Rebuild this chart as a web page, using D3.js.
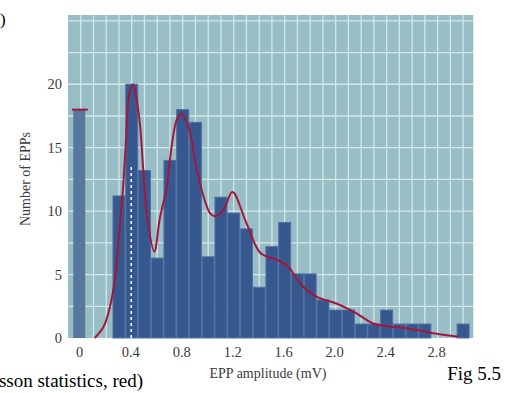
<!DOCTYPE html>
<html>
<head>
<meta charset="utf-8">
<script src="https://cdn.jsdelivr.net/npm/d3@7"></script>
<style>
  body { margin: 0; background: #fff; }
  svg text { font-family: "Liberation Serif", serif; }
</style>
</head>
<body>
<script>
// histogram of EPP amplitudes (bin centres in mV, counts)
var failBin = 0, failCount = 18;
var binCenters = [0.3, 0.4, 0.5, 0.6, 0.7, 0.8, 0.9, 1.0, 1.1, 1.2, 1.3, 1.4, 1.5,
                  1.6, 1.7, 1.8, 1.9, 2.0, 2.1, 2.2, 2.3, 2.4, 2.5, 2.6, 2.7, 2.8, 2.9, 3.0];
var binCounts = [11.2, 20.0, 13.2, 6.3, 14.0, 18.0, 17.0, 6.4, 11.1, 9.85, 8.6, 4.0, 7.2,
                 9.1, 5.05, 5.05, 3.0, 2.2, 2.2, 1.1, 1.1, 2.2, 1.1, 1.1, 1.1, 0, 0, 1.1];

// fitted curve (Poisson prediction), red
var fitX = [0.11, 0.18, 0.23, 0.27, 0.30, 0.33, 0.355, 0.38, 0.41, 0.435, 0.465, 0.49, 0.52,
            0.577, 0.62, 0.675, 0.70, 0.753, 0.79, 0.844, 0.91, 0.962, 1.014, 1.053, 1.12,
            1.19, 1.30, 1.41, 1.54, 1.63, 1.72, 1.85, 2.01, 2.14, 2.29, 2.37, 2.56, 2.74, 2.96];
var fitY = [0, 0.9, 2.5, 4.8, 8.2, 11.6, 15.5, 19.2, 20.0, 19.0, 16.8, 13.3, 9.6,
            6.8, 9.4, 11.9, 14.1, 17.2, 17.7, 16.7, 13.3, 11.2, 9.85, 9.6, 10.1,
            11.5, 9.06, 6.7, 6.16, 5.6, 4.3, 3.26, 2.7, 2.08, 1.16, 0.97, 0.77, 0.42, 0.1];

var quantalSize = 0.4, quantalTop = 13.7;

var xTicks = [0, 0.4, 0.8, 1.2, 1.6, 2.0, 2.4, 2.8];
var yTicks = [0, 5, 10, 15, 20];

var width = 512, height = 393;
var plotL = 68, plotR = 473.3, plotT = 15, plotB = 338;

var svg = d3.select("body").append("svg")
    .attr("width", width)
    .attr("height", height);

var x = d3.scaleLinear().domain([-0.1, 3.08]).range([plotL, plotR]);
var y = d3.scaleLinear().domain([0, 25.46]).range([plotB, plotT]);

// panel background
svg.append("rect")
    .attr("x", plotL).attr("y", plotT)
    .attr("width", plotR - plotL).attr("height", plotB - plotT)
    .attr("fill", "#98bdc4");

// grid: every 0.1 mV and every 2.5 counts
var grid = svg.append("g").attr("stroke", "#d3e7ea").attr("stroke-width", 1.3);
grid.selectAll("line.v")
    .data(d3.range(0, 31).map(function (i) { return i / 10; }))
    .enter().append("line")
    .attr("x1", function (d) { return x(d); })
    .attr("x2", function (d) { return x(d); })
    .attr("y1", plotT).attr("y2", plotB);
grid.selectAll("line.h")
    .data(d3.range(1, 11).map(function (i) { return i * 2.5; }))
    .enter().append("line")
    .attr("x1", plotL).attr("x2", plotR)
    .attr("y1", function (d) { return y(d); })
    .attr("y2", function (d) { return y(d); });

var half = 0.047;

// failures bar at 0
svg.append("rect")
    .attr("x", x(failBin - half) - 1.5)
    .attr("width", x(failBin + half) - x(failBin - half))
    .attr("y", y(failCount))
    .attr("height", y(0) - y(failCount))
    .attr("fill", "#59769f");

svg.append("line")
    .attr("x1", x(failBin - 0.07)).attr("x2", x(failBin + 0.055))
    .attr("y1", y(failCount)).attr("y2", y(failCount))
    .attr("stroke", "#a3163f").attr("stroke-width", 2);

// histogram bars
var bins = binCenters.map(function (c, i) { return { c: c, n: binCounts[i] }; })
    .filter(function (d) { return d.n > 0; });

svg.selectAll("rect.bar")
    .data(bins)
    .enter().append("rect")
    .attr("class", "bar")
    .attr("x", function (d) { return x(d.c - half); })
    .attr("width", x(half * 2) - x(0))
    .attr("y", function (d) { return y(d.n); })
    .attr("height", function (d) { return y(0) - y(d.n); })
    .attr("fill", "#36588f")
    .attr("stroke", "#4f70a3")
    .attr("stroke-width", 1);

// quantal size marker
svg.append("line")
    .attr("x1", x(quantalSize) - 0.5).attr("x2", x(quantalSize) - 0.5)
    .attr("y1", y(0)).attr("y2", y(quantalTop))
    .attr("stroke", "#ffffff").attr("stroke-width", 1.5)
    .attr("stroke-dasharray", "3,3");

// fitted curve
var line = d3.line()
    .x(function (d) { return x(d[0]); })
    .y(function (d) { return y(d[1]); })
    .curve(d3.curveCatmullRom.alpha(0.5));

svg.append("path")
    .datum(fitX.map(function (v, i) { return [v, fitY[i]]; }))
    .attr("d", line)
    .attr("fill", "none")
    .attr("stroke", "#a3163f")
    .attr("stroke-width", 2);

// tick labels
svg.selectAll("text.xt")
    .data(xTicks)
    .enter().append("text")
    .attr("x", function (d) { return x(d) - 1; })
    .attr("y", 357)
    .attr("text-anchor", "middle")
    .attr("font-size", 14.5)
    .attr("fill", "#3a3a3a")
    .text(function (d) { return d === 0 ? "0" : d.toFixed(1); });

svg.selectAll("text.yt")
    .data(yTicks)
    .enter().append("text")
    .attr("x", 62)
    .attr("y", function (d) { return y(d) + 5; })
    .attr("text-anchor", "end")
    .attr("font-size", 14.5)
    .attr("fill", "#3a3a3a")
    .text(function (d) { return d; });

// axis titles
svg.append("text")
    .attr("transform", "translate(30,179) rotate(-90)")
    .attr("text-anchor", "middle")
    .attr("font-size", 14)
    .attr("fill", "#3a3a3a")
    .text("Number of EPPs");

svg.append("text")
    .attr("x", 268).attr("y", 378)
    .attr("text-anchor", "middle")
    .attr("font-size", 14)
    .attr("fill", "#3a3a3a")
    .text("EPP amplitude (mV)");

// cut-off caption pieces
svg.append("text")
    .attr("x", 143).attr("y", 387)
    .attr("text-anchor", "end")
    .attr("font-size", 19)
    .attr("fill", "#000")
    .text("sson statistics, red)");

svg.append("text")
    .attr("x", 501).attr("y", 380)
    .attr("text-anchor", "end")
    .attr("font-size", 19)
    .attr("fill", "#000")
    .text("Fig 5.5");

svg.append("text")
    .attr("x", 0).attr("y", 25)
    .attr("font-size", 17)
    .attr("fill", "#000")
    .text(")");
</script>
</body>
</html>
